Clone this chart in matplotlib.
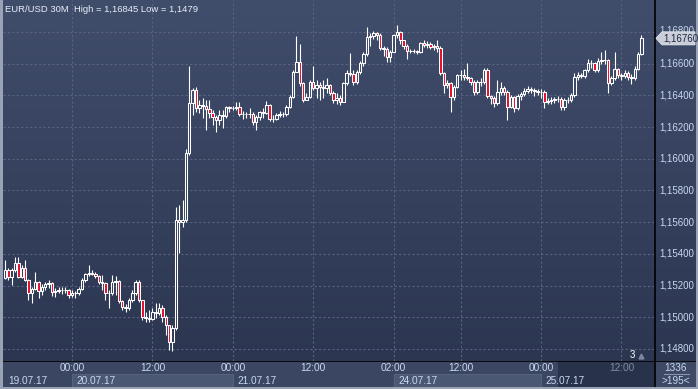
import numpy as np
import matplotlib
matplotlib.use('Agg')
import matplotlib.pyplot as plt
from matplotlib.colors import LinearSegmentedColormap, to_rgb
from matplotlib.patches import Rectangle, Polygon

plt.rcParams['font.family'] = ['Liberation Sans', 'DejaVu Sans']

# EUR/USD 30 minute candles, 19.07.17 14:00 .. 25.07.17 (opens = previous close)
first_open = 1.15248
closes = [
    1.15298, 1.15254, 1.15298, 1.15342, 1.15254, 1.15311, 1.15235, 1.15153, 1.15178, 1.15223,
    1.15166, 1.15191, 1.15210, 1.15216, 1.15159, 1.15166, 1.15172, 1.15170, 1.15174, 1.15140,
    1.15153, 1.15150, 1.15178, 1.15235, 1.15273, 1.15279, 1.15276, 1.15260, 1.15223, 1.15216,
    1.15153, 1.15150, 1.15223, 1.15229, 1.15103, 1.15065, 1.15058, 1.15109, 1.15153, 1.15223,
    1.15109, 1.15002, 1.14995, 1.14992, 1.15033, 1.15030, 1.15058, 1.15002, 1.14951, 1.14844,
    1.14932, 1.15614, 1.15601, 1.15614, 1.16037, 1.16352, 1.16434, 1.16320, 1.16339, 1.16336,
    1.16314, 1.16289, 1.16264, 1.16245, 1.16276, 1.16273, 1.16327, 1.16320, 1.16322, 1.16327,
    1.16283, 1.16280, 1.16283, 1.16280, 1.16232, 1.16264, 1.16295, 1.16292, 1.16339, 1.16251,
    1.16248, 1.16276, 1.16283, 1.16280, 1.16327, 1.16390, 1.16548, 1.16611, 1.16478, 1.16371,
    1.16390, 1.16485, 1.16447, 1.16466, 1.16453, 1.16447, 1.16466, 1.16415, 1.16371, 1.16384,
    1.16358, 1.16478, 1.16541, 1.16538, 1.16485, 1.16548, 1.16604, 1.16661, 1.16768, 1.16775,
    1.16794, 1.16781, 1.16699, 1.16693, 1.16642, 1.16674, 1.16781, 1.16800, 1.16750, 1.16712,
    1.16680, 1.16677, 1.16680, 1.16674, 1.16731, 1.16718, 1.16724, 1.16705, 1.16712, 1.16699,
    1.16541, 1.16466, 1.16478, 1.16390, 1.16453, 1.16529, 1.16526, 1.16516, 1.16510, 1.16485,
    1.16421, 1.16485, 1.16482, 1.16560, 1.16396, 1.16384, 1.16352, 1.16421, 1.16447, 1.16421,
    1.16327, 1.16390, 1.16320, 1.16396, 1.16409, 1.16428, 1.16440, 1.16434, 1.16428, 1.16421,
    1.16424, 1.16358, 1.16365, 1.16371, 1.16377, 1.16375, 1.16327, 1.16371, 1.16368, 1.16402,
    1.16516, 1.16529, 1.16522, 1.16560, 1.16604, 1.16602, 1.16560, 1.16617, 1.16623, 1.16621,
    1.16478, 1.16510, 1.16567, 1.16529, 1.16522, 1.16541, 1.16516, 1.16510, 1.16567, 1.16661,
    1.16760,
]
highs = [
    1.15361, 1.15311, 1.15311, 1.15380, 1.15380, 1.15330, 1.15361, 1.15242, 1.15191, 1.15286,
    1.15229, 1.15210, 1.15223, 1.15235, 1.15223, 1.15185, 1.15191, 1.15191, 1.15191, 1.15178,
    1.15172, 1.15166, 1.15191, 1.15248, 1.15279, 1.15330, 1.15298, 1.15286, 1.15267, 1.15267,
    1.15223, 1.15172, 1.15267, 1.15260, 1.15235, 1.15109, 1.15084, 1.15122, 1.15172, 1.15235,
    1.15235, 1.15096, 1.15033, 1.15046, 1.15058, 1.15090, 1.15090, 1.15077, 1.15014, 1.14951,
    1.14951, 1.15696, 1.15708, 1.15740, 1.16062, 1.16585, 1.16447, 1.16453, 1.16371, 1.16384,
    1.16371, 1.16371, 1.16308, 1.16276, 1.16308, 1.16308, 1.16333, 1.16333, 1.16333, 1.16358,
    1.16358, 1.16301, 1.16295, 1.16320, 1.16295, 1.16276, 1.16301, 1.16320, 1.16365, 1.16346,
    1.16276, 1.16289, 1.16301, 1.16295, 1.16339, 1.16402, 1.16560, 1.16775, 1.16724, 1.16485,
    1.16415, 1.16497, 1.16585, 1.16497, 1.16485, 1.16497, 1.16510, 1.16472, 1.16428, 1.16415,
    1.16402, 1.16485, 1.16560, 1.16667, 1.16560, 1.16560, 1.16617, 1.16674, 1.16832, 1.16794,
    1.16806, 1.16800, 1.16794, 1.16712, 1.16705, 1.16686, 1.16787, 1.16845, 1.16806, 1.16750,
    1.16724, 1.16693, 1.16693, 1.16686, 1.16737, 1.16750, 1.16743, 1.16737, 1.16724, 1.16750,
    1.16712, 1.16548, 1.16497, 1.16485, 1.16466, 1.16535, 1.16560, 1.16567, 1.16604, 1.16516,
    1.16497, 1.16497, 1.16510, 1.16573, 1.16573, 1.16402, 1.16396, 1.16497, 1.16485, 1.16459,
    1.16434, 1.16402, 1.16396, 1.16409, 1.16421, 1.16447, 1.16459, 1.16453, 1.16447, 1.16440,
    1.16440, 1.16434, 1.16384, 1.16390, 1.16390, 1.16396, 1.16390, 1.16384, 1.16390, 1.16415,
    1.16541, 1.16548, 1.16541, 1.16567, 1.16630, 1.16623, 1.16611, 1.16636, 1.16674, 1.16686,
    1.16630, 1.16522, 1.16674, 1.16573, 1.16541, 1.16560, 1.16554, 1.16535, 1.16585, 1.16674,
    1.16781,
]
lows = [
    1.15242, 1.15235, 1.15204, 1.15286, 1.15248, 1.15248, 1.15229, 1.15109, 1.15090, 1.15172,
    1.15122, 1.15140, 1.15172, 1.15185, 1.15134, 1.15128, 1.15153, 1.15147, 1.15153, 1.15122,
    1.15128, 1.15122, 1.15140, 1.15172, 1.15223, 1.15260, 1.15267, 1.15248, 1.15210, 1.15172,
    1.15109, 1.15058, 1.15140, 1.15140, 1.15090, 1.15046, 1.15033, 1.15046, 1.15096, 1.15140,
    1.15096, 1.14983, 1.14970, 1.14970, 1.14983, 1.14995, 1.15014, 1.14970, 1.14888, 1.14794,
    1.14790, 1.14920, 1.15406, 1.15570, 1.15601, 1.16024, 1.16276, 1.16295, 1.16289, 1.16257,
    1.16182, 1.16257, 1.16213, 1.16169, 1.16213, 1.16194, 1.16257, 1.16295, 1.16308, 1.16308,
    1.16270, 1.16251, 1.16257, 1.16257, 1.16213, 1.16182, 1.16245, 1.16257, 1.16283, 1.16238,
    1.16232, 1.16245, 1.16264, 1.16264, 1.16270, 1.16320, 1.16384, 1.16548, 1.16459, 1.16358,
    1.16371, 1.16384, 1.16434, 1.16384, 1.16371, 1.16384, 1.16415, 1.16402, 1.16352, 1.16346,
    1.16339, 1.16371, 1.16466, 1.16522, 1.16466, 1.16472, 1.16535, 1.16585, 1.16649, 1.16712,
    1.16756, 1.16750, 1.16686, 1.16649, 1.16611, 1.16611, 1.16712, 1.16762, 1.16724, 1.16693,
    1.16630, 1.16667, 1.16667, 1.16661, 1.16667, 1.16705, 1.16699, 1.16693, 1.16686, 1.16674,
    1.16529, 1.16415, 1.16447, 1.16295, 1.16371, 1.16447, 1.16497, 1.16497, 1.16497, 1.16466,
    1.16402, 1.16409, 1.16459, 1.16472, 1.16384, 1.16346, 1.16327, 1.16339, 1.16402, 1.16402,
    1.16245, 1.16320, 1.16295, 1.16308, 1.16371, 1.16396, 1.16415, 1.16415, 1.16396, 1.16402,
    1.16384, 1.16320, 1.16346, 1.16346, 1.16352, 1.16358, 1.16308, 1.16308, 1.16352, 1.16358,
    1.16390, 1.16497, 1.16510, 1.16510, 1.16548, 1.16573, 1.16548, 1.16548, 1.16598, 1.16598,
    1.16415, 1.16466, 1.16497, 1.16510, 1.16497, 1.16510, 1.16497, 1.16472, 1.16497, 1.16560,
    1.16655,
]

price_ticks = [1.148, 1.150, 1.152, 1.154, 1.156, 1.158, 1.160, 1.162, 1.164, 1.166, 1.168]
time_tick_idx = [20, 44, 68, 92, 116, 136, 160, 184]
time_tick_lbl = ['00:00', '12:00', '00:00', '12:00', '02:00', '12:00', '00:00', '12:00']
date_idx = [-0.6, 20, 68, 116, 160]
date_lbl = ['19.07.17', '20.07.17', '21.07.17', '24.07.17', '25.07.17']
last_price = 1.16760
title = 'EUR/USD 30M  High = 1,16845 Low = 1,1479'

W, H = 698, 389
PX = 3.35          # pixels per candle


def px2i(px):
    return (px - 5) / PX


closes = np.array(closes)
highs = np.array(highs)
lows = np.array(lows)
opens = np.concatenate([[first_open], closes[:-1]])
idx = np.arange(len(closes))

bg_top, bg_bot = '#404d6b', '#2c3651'
grid_c = '#58647f'
txt_c = '#c9d8ef'
red = '#e4102c'

fig = plt.figure(figsize=(W / 100, H / 100), dpi=100, facecolor='#9aa3b6')

# main chart: pixels x 3..696, y 0..361
ax = fig.add_axes([3 / W, (H - 361) / H, 693 / W, 361 / H])
x0, x1 = px2i(3), px2i(696)
y_top = 1.168 + 32 * 0.0000631
y_bot = 1.168 - 329 * 0.0000631
ax.set_xlim(x0, x1)
ax.set_ylim(y_bot, y_top)
ax.axis('off')

cmap = LinearSegmentedColormap.from_list('bg', [bg_bot, bg_top])
grad = np.linspace(0, 1, 256).reshape(-1, 1)
ax.imshow(grad, extent=[x0, x1, y_bot, y_top], aspect='auto', cmap=cmap,
          origin='lower', zorder=0)

xr = px2i(655)
ax.hlines(price_ticks, x0, xr, colors=grid_c, linestyles=(0, (2, 2)), lw=0.8, zorder=1)
ax.vlines(time_tick_idx, y_bot, y_top, colors=grid_c, linestyles=(0, (2, 2)), lw=0.8, zorder=1)
ax.axvline(xr, color='black', lw=1.2, zorder=5)

# candles
ct, cb = np.array(to_rgb(bg_top)), np.array(to_rgb(bg_bot))
fills = []
for o, c in zip(opens, closes):
    if c < o:
        fills.append(red)
    else:
        f = ((o + c) / 2 - y_bot) / (y_top - y_bot)
        fills.append(tuple(cb + (ct - cb) * f))
hi = np.maximum(highs, np.maximum(opens, closes))
lo = np.minimum(lows, np.minimum(opens, closes))
ax.vlines(idx, lo, hi, colors='white', lw=0.8, zorder=2)
ax.bar(idx, np.abs(closes - opens), bottom=np.minimum(opens, closes), width=0.72,
       color=fills, edgecolor='white', linewidth=0.75, zorder=3)

# price labels on the right (the top one sits partly under the last-price marker)
for p in price_ticks:
    ax.text(px2i(659), p + (0.00012 if p == 1.168 else 0), f'{p:.5f}'.replace('.', ','),
            color=txt_c, fontsize=7, ha='left', va='center', zorder=4)

# last price marker
h = 6.5 * 0.0000631
xa, xb, xc = px2i(656), px2i(662), px2i(695)
ax.add_patch(Polygon([[xa, last_price], [xb, last_price + h], [xc, last_price + h],
                      [xc, last_price - h], [xb, last_price - h]],
                     closed=True, facecolor='#c9ced8', edgecolor='#e8ebf0', lw=0.6, zorder=6))
ax.text(px2i(663), last_price, f'{last_price:.5f}'.replace('.', ','), color='#1c2740',
        fontsize=7, ha='left', va='center', zorder=7)

ax.text(0.003, 0.975, title, transform=ax.transAxes, color='#e8eef8', fontsize=6.8,
        ha='left', va='center', zorder=6)
ax.text(px2i(632), 1.168 - 323 * 0.0000631, '3', color='white', fontsize=7,
        ha='center', va='center', zorder=6)
ax.plot([px2i(641)], [1.168 - 324 * 0.0000631], marker='^', ms=3.5, color='#7d879c', zorder=6)

# bottom time axis: pixels y 361..387
bx = fig.add_axes([3 / W, 2 / H, 693 / W, 26 / H])
bx.set_xlim(x0, x1)
bx.set_ylim(0, 1)
bx.axis('off')
bx.add_patch(Rectangle((x0, 0), xr - x0, 1, facecolor='#3a4662', edgecolor='none', zorder=0))
bx.add_patch(Rectangle((px2i(558), 0), xr - px2i(558), 1, facecolor='#28324b',
                       edgecolor='none', zorder=1))
for a, b in [(20, 68), (116, 160)]:
    bx.add_patch(Rectangle((a, 0), b - a, 0.5, facecolor='#4b5874', edgecolor='#5a6782',
                           lw=0.6, zorder=1))
bx.add_patch(Rectangle((xr, 0), x1 - xr, 1, facecolor='#3d4965', edgecolor='none', zorder=0))
bx.axhline(1, color='black', lw=1.2, zorder=5)
bx.axvline(xr, color='black', lw=1.2, zorder=5)

for i, lbl in zip(time_tick_idx, time_tick_lbl):
    col = '#7f8ba3' if i > px2i(558) else txt_c
    bx.text(i, 0.72, lbl, color=col, fontsize=7.3, ha='center', va='center', zorder=3)
for i, lbl in zip(date_idx, date_lbl):
    off = 2.0 if i > 0 else 2.4
    col = txt_c if i < px2i(558) - 5 else '#aab6cc'
    bx.text(i + off * 0.5 + 0.4, 0.25, lbl, color=col, fontsize=7.3, ha='left',
            va='center', zorder=3)

bx.text(px2i(676), 0.74, '1336', color=txt_c, fontsize=7.2, ha='center', va='center', zorder=3)
bx.plot([px2i(664), px2i(689)], [0.5, 0.5], color='#8894ab', lw=0.8, zorder=3)
bx.text(px2i(676), 0.24, '>195<', color=txt_c, fontsize=7.2, ha='center', va='center', zorder=3)

fig.savefig('out.png', dpi=100, facecolor=fig.get_facecolor())
